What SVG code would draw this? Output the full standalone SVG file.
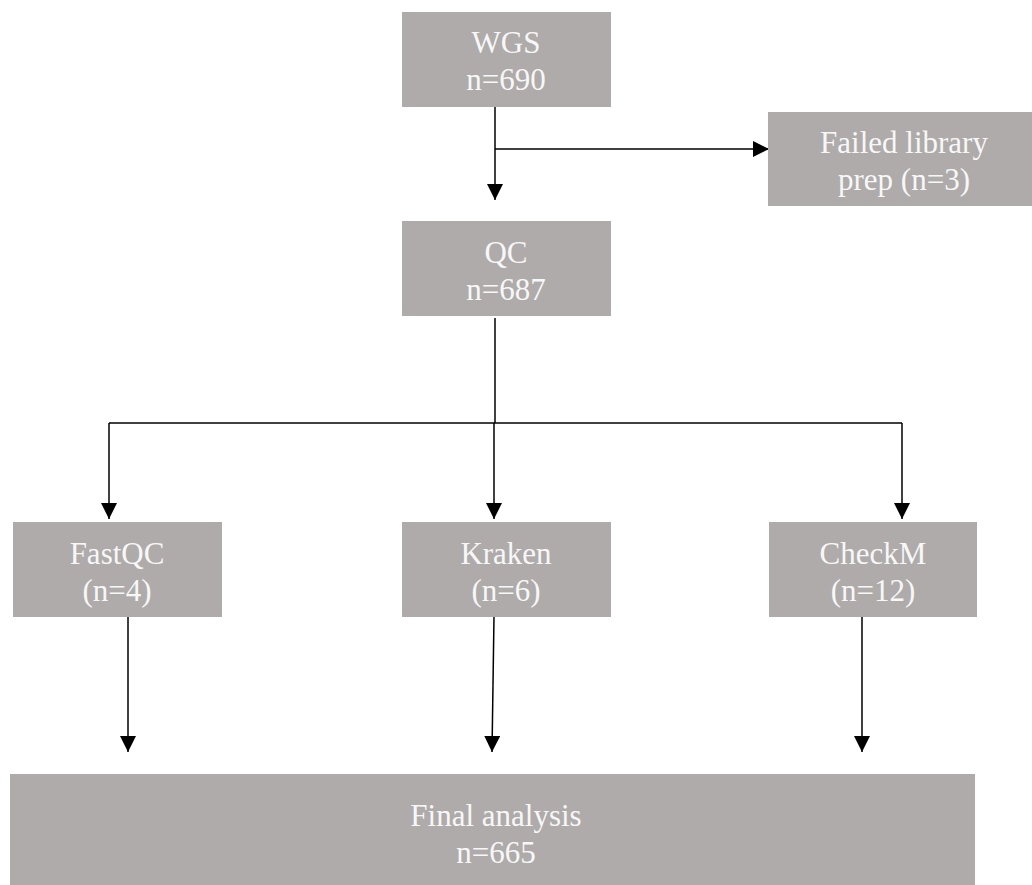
<svg xmlns="http://www.w3.org/2000/svg" width="1032" height="885" viewBox="0 0 1032 885">
  <defs>
    <style>
      .box { fill: #aeabaa; }
      .lbl { font-family: "Liberation Serif", "Times New Roman", serif; font-size: 31px; fill: #f7f7f7; text-anchor: middle; }
      .edge { fill: none; stroke: #000; stroke-width: 1.5; }
    </style>
    <marker id="arrow" markerUnits="userSpaceOnUse" markerWidth="16" markerHeight="16" refX="16" refY="8" orient="auto">
      <path d="M0,0 L16,8 L0,16 z" fill="#000"/>
    </marker>
  </defs>
  <rect width="1032" height="885" fill="#fff"/>

  <g id="connectors">
    <path class="edge" d="M495,107 V200" marker-end="url(#arrow)"/>
    <path class="edge" d="M495,149 H769" marker-end="url(#arrow)"/>
    <path class="edge" d="M495,318 V423"/>
    <path class="edge" d="M109,423 H902"/>
    <path class="edge" d="M109,423 V519" marker-end="url(#arrow)"/>
    <path class="edge" d="M494,423 V519" marker-end="url(#arrow)"/>
    <path class="edge" d="M902,423 V519" marker-end="url(#arrow)"/>
    <path class="edge" d="M128,616 V752" marker-end="url(#arrow)"/>
    <path class="edge" d="M494,616 L492,752" marker-end="url(#arrow)"/>
    <path class="edge" d="M862,616 V752" marker-end="url(#arrow)"/>
  </g>

  <g id="wgs">
    <rect class="box" x="402" y="12" width="209" height="95"/>
    <text class="lbl" x="506" y="53">WGS</text>
    <text class="lbl" x="506" y="90">n=690</text>
  </g>
  <g id="failed">
    <rect class="box" x="768" y="112" width="264" height="94"/>
    <text class="lbl" x="904" y="153">Failed library</text>
    <text class="lbl" x="904" y="190">prep (n=3)</text>
  </g>
  <g id="qc">
    <rect class="box" x="402" y="221" width="209" height="95"/>
    <text class="lbl" x="506" y="263">QC</text>
    <text class="lbl" x="506" y="300">n=687</text>
  </g>
  <g id="fastqc">
    <rect class="box" x="13" y="522" width="209" height="95"/>
    <text class="lbl" x="117" y="564">FastQC</text>
    <text class="lbl" x="117" y="601">(n=4)</text>
  </g>
  <g id="kraken">
    <rect class="box" x="402" y="522" width="209" height="95"/>
    <text class="lbl" x="506" y="564">Kraken</text>
    <text class="lbl" x="506" y="601">(n=6)</text>
  </g>
  <g id="checkm">
    <rect class="box" x="769" y="522" width="208" height="95"/>
    <text class="lbl" x="873" y="564">CheckM</text>
    <text class="lbl" x="873" y="601">(n=12)</text>
  </g>
  <g id="final">
    <rect class="box" x="10" y="774" width="965" height="111"/>
    <text class="lbl" x="496" y="826">Final analysis</text>
    <text class="lbl" x="496" y="863">n=665</text>
  </g>
</svg>
